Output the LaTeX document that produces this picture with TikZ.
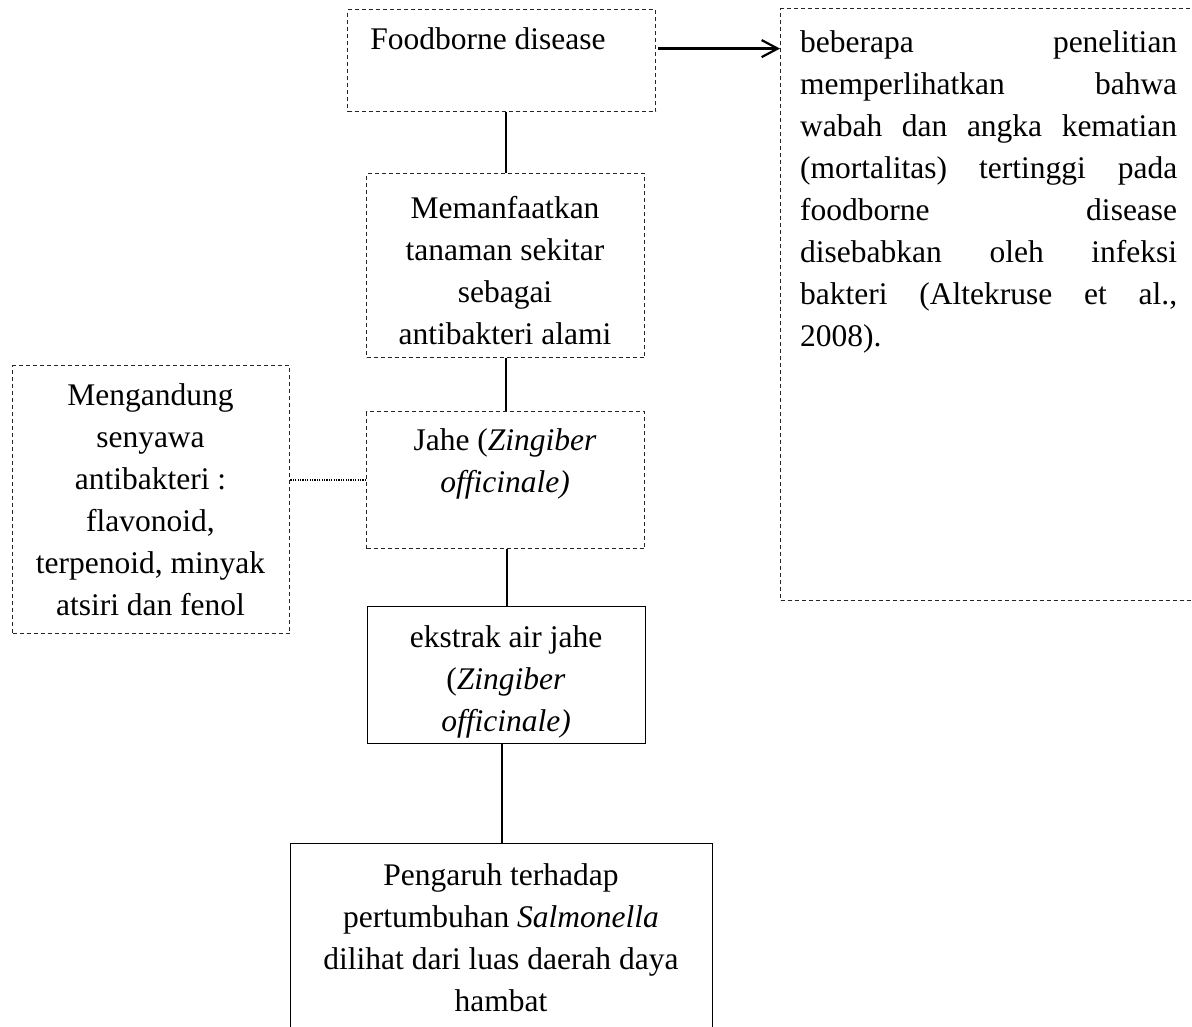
\documentclass[tikz,border=0pt]{standalone}
\usepackage{fontspec}
\setmainfont{Liberation Serif}
\usetikzlibrary{arrows.meta}
\setlength{\parindent}{0pt}
\begin{document}
\begin{tikzpicture}[x=1pt,y=1pt,
  dbox/.style={draw=black!85, dash pattern=on 4pt off 3pt, line width=1.2pt, inner sep=0pt, anchor=north west},
  sbox/.style={draw, line width=1.3pt, inner sep=0pt, anchor=north west},
  txt/.style={anchor=north, align=center, inner sep=0pt, font=\fontsize{31.5}{42}\selectfont},
  conn/.style={line width=1.8pt},
  dotconn/.style={line width=1.4pt, dash pattern=on 1.2pt off 1.2pt}]
\useasboundingbox (0,0) rectangle (1192,-1027);
\fill[white] (0,0) rectangle (1192,-1027);

% boxes
\node[dbox, minimum width=308pt, minimum height=102pt] (fd) at (347,-9) {};
\node[dbox, minimum width=430pt, minimum height=592pt] (rb) at (780,-8) {};
\node[dbox, minimum width=278pt, minimum height=184pt] (mem) at (366,-173) {};
\node[dbox, minimum width=278pt, minimum height=137pt] (jahe) at (366,-411) {};
\node[dbox, minimum width=277pt, minimum height=268pt] (lb) at (12,-365) {};
\node[sbox, minimum width=278pt, minimum height=137pt] (ek) at (367,-606) {};
\node[sbox, minimum width=422pt, minimum height=220pt] (pg) at (290,-843) {};

% texts
\node[txt] (fdt) at (488,-27.3) {Foodborne disease};
\node[txt] (memt) at (505,-196.3) {Memanfaatkan\\tanaman sekitar\\sebagai\\antibakteri alami};
\node[txt] (jahet) at (505,-428.3) {Jahe (\textit{Zingiber}\\\textit{officinale)}};
\node[txt] (lbt) at (150.5,-383.3) {Mengandung\\senyawa\\antibakteri :\\flavonoid,\\terpenoid, minyak\\atsiri dan fenol};
\node[txt] (ekt) at (506,-625.3) {ekstrak air jahe\\(\textit{Zingiber}\\\textit{officinale)}};
\node[txt] (pgt) at (501,-863.3) {Pengaruh terhadap\\pertumbuhan \textit{Salmonella}\\dilihat dari luas daerah daya\\hambat};
\node[anchor=north west, inner sep=0pt, text width=377pt, align=left,
      font=\fontsize{31.5}{42}\selectfont] (rbt) at (800,-30.3)
  {\hbox to 377pt{beberapa\hfill penelitian}\par
   \hbox to 377pt{memperlihatkan\hfill bahwa}\par
   \hbox to 377pt{wabah\hfill dan\hfill angka\hfill kematian}\par
   \hbox to 377pt{(mortalitas)\hfill tertinggi\hfill pada}\par
   \hbox to 377pt{foodborne\hfill disease}\par
   \hbox to 377pt{disebabkan\hfill oleh\hfill infeksi}\par
   \hbox to 377pt{bakteri\hfill (Altekruse\hfill et\hfill al.,}\par
   \hbox to 377pt{2008).\hfill}};

% connectors
\coordinate (a1) at ([yshift=12pt]fd.east);
\draw[conn, line width=2.2pt, -{Straight Barb[length=16pt, width=17pt, line width=2.2pt]}] ([xshift=2pt]a1) -- (a1 -| rb.west);
\draw[conn] (mem.north) -- (mem.north |- fd.south);
\draw[conn] (jahe.north) -- (jahe.north |- mem.south);
\draw[conn] (ek.north) -- (ek.north |- jahe.south);
\draw[conn] (pg.north) -- (pg.north |- ek.south);
\draw[dotconn] (jahe.west) -- (jahe.west -| lb.east);
\end{tikzpicture}
\end{document}
